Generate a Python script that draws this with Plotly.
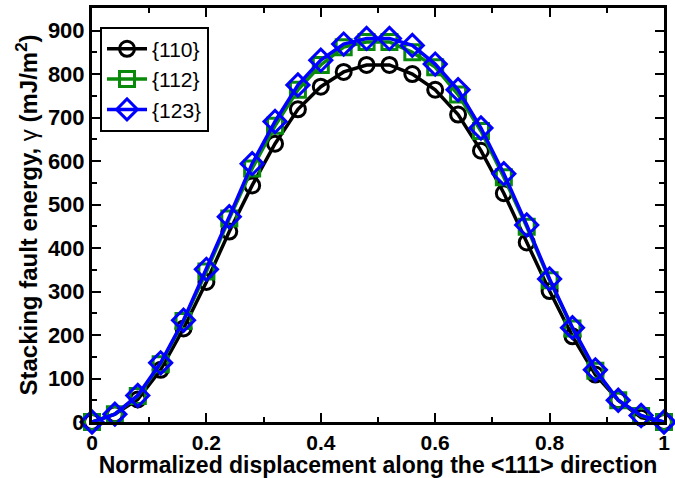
import plotly.graph_objects as go

x = [round(0.04 * k, 2) for k in range(26)]

y_110 = [0, 18, 52, 120, 215, 322, 438, 544, 640, 719, 771, 805, 821, 821,
         800, 764, 707, 624, 526, 413, 301, 197, 109, 50, 10, 0]
y_112 = [0, 18, 60, 133, 232, 346, 468, 583, 681, 764, 821, 862, 874, 874,
         850, 816, 753, 669, 563, 449, 326, 215, 118, 50, 14, 0]
y_123 = [0, 18, 61, 136, 234, 351, 472, 594, 691, 775, 832, 869, 882, 882,
         866, 823, 764, 676, 571, 453, 329, 217, 120, 50, 15, 0]

names = ["{110}", "{112}", "{123}"]
colors = ["black", "#0a8a0a", "#0000ff"]
symbols = ["circle-open", "square-open", "diamond-open"]
series = [y_110, y_112, y_123]

fig = go.Figure()
for nm, c, s, yy in zip(names, colors, symbols, series):
    fig.add_trace(go.Scatter(
        x=x, y=yy, name=nm, mode="lines+markers",
        line=dict(color=c, width=3.5),
        marker=dict(symbol=s, size=15 if s != "diamond-open" else 17,
                    color=c, line=dict(color=c, width=3)),
        cliponaxis=False,
    ))

font_family = "Liberation Sans, Arial, sans-serif"
axis_common = dict(
    showline=True, linecolor="black", linewidth=3, mirror="allticks",
    ticks="inside", ticklen=9, tickwidth=2, tickcolor="black",
    showgrid=False, zeroline=False,
)

fig.update_layout(
    width=675, height=478,
    margin=dict(l=92, r=8, t=5, b=53),
    paper_bgcolor="white", plot_bgcolor="white",
    font=dict(family=font_family, color="black"),
    xaxis=dict(
        range=[0, 1], tickvals=[0, 0.2, 0.4, 0.6, 0.8, 1],
        ticktext=["0", "0.2", "0.4", "0.6", "0.8", "1"],
        tickfont=dict(family=font_family, size=21, color="black", weight="bold"),
        minor=dict(tickvals=[0.1, 0.3, 0.5, 0.7, 0.9], ticklen=5, tickwidth=2,
                   tickcolor="black", ticks="inside"),
        title=dict(text="Normalized displacement along the &lt;111&gt; direction",
                   font=dict(family=font_family, size=23, color="black", weight="bold"),
                   standoff=3),
        **axis_common,
    ),
    yaxis=dict(
        range=[0, 952], tickvals=[0, 100, 200, 300, 400, 500, 600, 700, 800, 900],
        tickfont=dict(family=font_family, size=22, color="black", weight="bold"),
        minor=dict(dtick=50, ticklen=5, tickwidth=2, tickcolor="black", ticks="inside"),
        title=dict(text="Stacking fault energy, <span style='font-weight:normal'>γ</span> (mJ/m<sup>2</sup>)",
                   font=dict(family=font_family, size=24, color="black", weight="bold"),
                   standoff=4),
        **axis_common,
    ),
    legend=dict(
        x=0.014, y=0.955, xanchor="left", yanchor="top",
        bgcolor="white", bordercolor="black", borderwidth=2,
        font=dict(family=font_family, size=21, color="black"),
        tracegroupgap=0, itemwidth=40,
    ),
    showlegend=True,
)

fig.write_html("out.html")
